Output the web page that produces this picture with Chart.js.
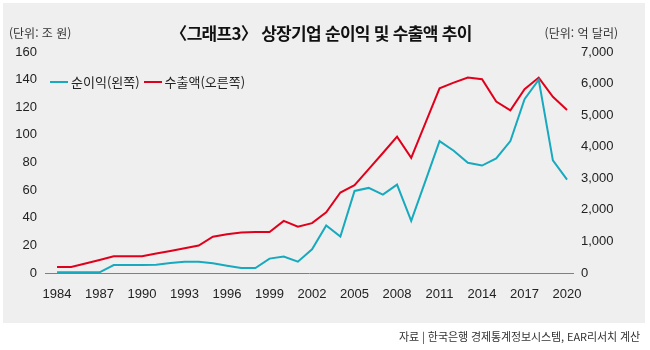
<!DOCTYPE html>
<html lang="ko">
<head>
<meta charset="utf-8">
<title>상장기업 순이익 및 수출액 추이</title>
<script src="https://cdn.jsdelivr.net/npm/chart.js@4/dist/chart.umd.min.js"></script>
<style>
    body { margin: 0; background: #ffffff; }
    #wrap { position: relative; width: 650px; height: 350px; overflow: hidden; }
    #panel { position: absolute; left: 3px; top: 3px; width: 642px; height: 320px; background: #efefef; }
    #chart-canvas { position: absolute; left: 0; top: 0; }
    .txt { position: absolute; font-family: "Noto Sans CJK KR", "Noto Sans", sans-serif; color: #222; white-space: nowrap; line-height: 1; }
    #title { left: 0; width: 642px; top: 24px; text-align: center; font-size: 17px; font-weight: 700; letter-spacing: -0.7px; color: #111; }
    #unit-left { left: 9px; top: 27px; font-size: 12px; color: #333; }
    #unit-right { right: 32px; top: 27px; font-size: 12px; color: #333; }
    #source { right: 10px; top: 331px; font-size: 11px; letter-spacing: -0.1px; color: #333; }
    #legend { position: absolute; left: 50px; top: 72px; display: flex; align-items: center; }
    .legend-item { display: flex; align-items: center; margin-right: 4px; font-family: "Noto Sans CJK KR", sans-serif; font-size: 13px; color: #222; }
    .legend-line { width: 18px; height: 2px; margin-right: 3px; }
</style>
</head>
<body>
<div id="wrap">
    <div id="panel"></div>
    <canvas id="chart-canvas" width="650" height="350"></canvas>
    <div class="txt" id="title">〈그래프3〉 상장기업 순이익 및 수출액 추이</div>
    <div class="txt" id="unit-left">(단위: 조 원)</div>
    <div class="txt" id="unit-right">(단위: 억 달러)</div>
    <div id="legend"></div>
    <div class="txt" id="source">자료 | 한국은행 경제통계정보시스템, EAR리서치 계산</div>
</div>
<script>
// Years on the x axis
const years = [
    1984, 1985, 1986, 1987, 1988, 1989, 1990, 1991, 1992, 1993,
    1994, 1995, 1996, 1997, 1998, 1999, 2000, 2001, 2002, 2003,
    2004, 2005, 2006, 2007, 2008, 2009, 2010, 2011, 2012, 2013,
    2014, 2015, 2016, 2017, 2018, 2019, 2020
];

// 순이익 (조 원, left axis)
const netProfit = [
    0.5, 0.5, 0.5, 0.5, 5.8, 5.8, 5.8, 5.9, 7.2, 8.2,
    8.2, 7.0, 5.3, 3.6, 3.6, 10.4, 11.9, 8.2, 17.2, 34.4,
    26.4, 59.4, 61.6, 56.7, 64.0, 37.8, 66.5, 95.5, 88.5, 79.8,
    77.8, 82.9, 95.5, 125.8, 139.9, 81.5, 67.6
];

// 수출액 (억 달러, right axis)
const exports = [
    190, 190, 300, 410, 530, 530, 530, 620, 700, 785,
    870, 1150, 1230, 1280, 1300, 1300, 1650, 1465, 1580, 1920,
    2550, 2780, 3290, 3800, 4320, 3650, 4750, 5850, 6030, 6190,
    6140, 5430, 5150, 5820, 6190, 5580, 5160
];

const xTicks = [1984, 1987, 1990, 1993, 1996, 1999, 2002, 2005, 2008, 2011, 2014, 2017, 2020];
const leftTicks = [0, 20, 40, 60, 80, 100, 120, 140, 160];
const rightTicks = [0, 1000, 2000, 3000, 4000, 5000, 6000, 7000];

const seriesLabels = ['순이익(왼쪽)', '수출액(오른쪽)'];
const colors = ['#17a9bd', '#e0001b'];

const tickFont = { family: '"Liberation Sans", Arial, sans-serif', size: 13 };

function toPoints(values) {
    return values.map((v, i) => ({ x: years[i], y: v }));
}

const chart = new Chart(document.getElementById('chart-canvas').getContext('2d'), {
    type: 'line',
    data: {
        datasets: [{
            label: seriesLabels[0],
            data: toPoints(netProfit),
            borderColor: colors[0],
            backgroundColor: colors[0],
            borderWidth: 2,
            pointRadius: 0,
            tension: 0,
            yAxisID: 'yLeft'
        }, {
            label: seriesLabels[1],
            data: toPoints(exports),
            borderColor: colors[1],
            backgroundColor: colors[1],
            borderWidth: 2,
            pointRadius: 0,
            tension: 0,
            yAxisID: 'yRight'
        }]
    },
    options: {
        responsive: false,
        animation: false,
        layout: { padding: { top: 52, left: 0, right: 0, bottom: 0 } },
        plugins: {
            legend: { display: false },
            tooltip: { enabled: false }
        },
        scales: {
            x: {
                type: 'linear',
                min: 1983.15,
                max: 2020.42,
                afterBuildTicks: axis => { axis.ticks = xTicks.map(v => ({ value: v })); },
                afterFit: axis => { axis.height = 77; },
                grid: { display: false, drawTicks: false },
                border: { display: true, color: '#808080', width: 1 },
                ticks: {
                    autoSkip: false,
                    maxRotation: 0,
                    padding: 14,
                    color: '#222',
                    font: tickFont,
                    callback: v => String(v)
                }
            },
            yLeft: {
                position: 'left',
                min: 0,
                max: 160,
                afterBuildTicks: axis => { axis.ticks = leftTicks.map(v => ({ value: v })); },
                afterFit: axis => { axis.width = 45; },
                grid: { display: false, drawTicks: false },
                border: { display: false },
                ticks: { padding: 8, color: '#222', font: tickFont }
            },
            yRight: {
                position: 'right',
                min: 0,
                max: 7000,
                afterBuildTicks: axis => { axis.ticks = rightTicks.map(v => ({ value: v })); },
                afterFit: axis => { axis.width = 77; },
                grid: { display: false, drawTicks: false },
                border: { display: false },
                ticks: {
                    padding: 8,
                    color: '#222',
                    font: tickFont,
                    callback: v => v.toLocaleString('en-US')
                }
            }
        }
    }
});

// Legend built from the datasets
const legendBox = document.getElementById('legend');
legendBox.innerHTML = chart.data.datasets.map(ds => `
    <div class="legend-item">
        <span class="legend-line" style="background:${ds.borderColor}"></span>
        <span>${ds.label}</span>
    </div>
`).join('');
</script>
</body>
</html>
